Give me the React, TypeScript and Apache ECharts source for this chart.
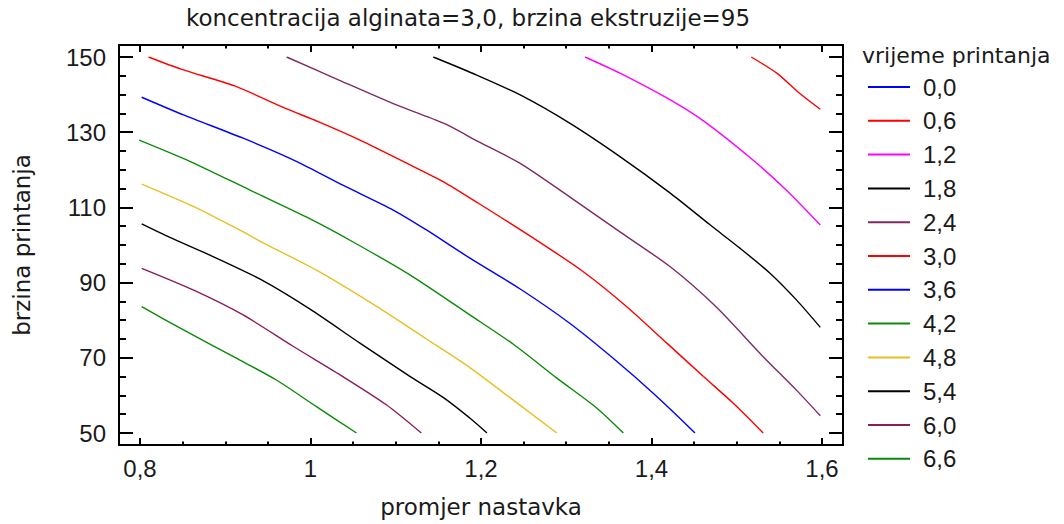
import React, { useEffect, useRef } from "react";
import * as echarts from "echarts";

const levelNames = ["0,0", "0,6", "1,2", "1,8", "2,4", "3,0", "3,6", "4,2", "4,8", "5,4", "6,0", "6,6"];
const levelColors = ["#0000ff", "#ff0000", "#ff00ff", "#000000", "#7f2a60", "#ff0000", "#0000ff", "#0a8a0a", "#e8c020", "#000000", "#8c1c5c", "#0a8a0a"];

const xTicks = [0.8, 1.6];
const yTicks = [50, 150];

const lvl0_0: number[][] = [];
const lvl0_6 = [[1.517, 150], [1.547, 145.7], [1.574, 140.3], [1.598, 136.1]];
const lvl1_2 = [[1.322, 150], [1.363, 145.7], [1.422, 138.6], [1.461, 133.0], [1.519, 122.6], [1.558, 114.6], [1.598, 105.3]];
const lvl1_8 = [[1.144, 150], [1.195, 145.2], [1.246, 139.9], [1.304, 132.4], [1.363, 123.5], [1.422, 113.8], [1.469, 105.3], [1.504, 99.1], [1.539, 92.5], [1.57, 85.4], [1.598, 78.1]];
const lvl2_4 = [[0.972, 150], [1.038, 143.4], [1.097, 137.6], [1.156, 132.4], [1.197, 127.5], [1.246, 121.7], [1.304, 112.8], [1.363, 103.5], [1.422, 94.2], [1.476, 83.5], [1.531, 70.3], [1.57, 61.4], [1.598, 54.6]];
const lvl3_0 = [[0.81, 150], [0.849, 146.7], [0.911, 142.3], [0.97, 136.4], [1.009, 132.8], [1.058, 127.9], [1.117, 121.3], [1.156, 116.8], [1.197, 111.1], [1.265, 101.3], [1.32, 92.9], [1.371, 83.6], [1.418, 73.9], [1.461, 65.0], [1.496, 57.9], [1.531, 50]];
const lvl3_6 = [[0.802, 139.3], [0.851, 134.6], [0.921, 128.4], [0.984, 122.2], [1.038, 115.9], [1.097, 109.3], [1.136, 104], [1.187, 96.5], [1.246, 88.3], [1.304, 79.2], [1.355, 69.9], [1.402, 60.6], [1.451, 50]];
const lvl4_2 = [[0.799, 127.9], [0.859, 122.2], [0.929, 114.6], [0.999, 107.0], [1.05, 100.8], [1.117, 92.0], [1.187, 81.4], [1.238, 73.6], [1.289, 64.6], [1.336, 56.6], [1.367, 50]];
const lvl4_8 = [[0.802, 116.2], [0.863, 110.2], [0.921, 103.5], [0.945, 100.5], [1.007, 93.3], [1.078, 83.6], [1.136, 75.0], [1.187, 67.4], [1.234, 59.4], [1.289, 50]];
const lvl5_4 = [[0.802, 105.6], [0.835, 102.0], [0.882, 97.3], [0.941, 90.9], [0.999, 83.0], [1.058, 73.9], [1.117, 65.0], [1.156, 59.4], [1.19, 53.4], [1.207, 50]];
const lvl6_0 = [[0.802, 93.8], [0.863, 88.0], [0.921, 81.4], [0.98, 73.0], [1.038, 65.0], [1.089, 57.5], [1.13, 50]];
const lvl6_6 = [[0.802, 83.6], [0.851, 77.4], [0.913, 69.9], [0.96, 64.1], [1.007, 57.0], [1.054, 50]];

const levelData = [lvl0_0, lvl0_6, lvl1_2, lvl1_8, lvl2_4, lvl3_0, lvl3_6, lvl4_2, lvl4_8, lvl5_4, lvl6_0, lvl6_6];

const fmt = (v: number) => String(Math.round(v * 100) / 100).replace(".", ",");

export default function App() {
  const ref = useRef<HTMLDivElement>(null);
  useEffect(() => {
    if (!ref.current) return;
    const chart = echarts.init(ref.current, undefined, { renderer: "svg" });
    const tickStyle = { color: "#000", width: 2 };
    const xCommon = {
      type: "value",
      min: xTicks[0],
      max: xTicks[1],
      interval: 0.2,
      offset: 12,
      axisLine: { show: false },
      splitLine: { show: false },
      axisTick: { show: true, inside: true, length: 7, lineStyle: tickStyle },
      minorTick: { show: true, splitNumber: 4, length: 3.5, lineStyle: tickStyle },
    };
    const yCommon = {
      type: "value",
      min: yTicks[0],
      max: yTicks[1],
      interval: 20,
      offset: 21,
      axisLine: { show: false },
      splitLine: { show: false },
      axisTick: { show: true, inside: true, length: 14, lineStyle: tickStyle },
      minorTick: { show: true, splitNumber: 4, length: 7, lineStyle: tickStyle },
    };
    const textColor = "#1a1a1a";
    chart.setOption({
      animation: false,
      backgroundColor: "#ffffff",
      title: [
        {
          text: "koncentracija alginata=3,0, brzina ekstruzije=95",
          left: 463,
          top: 1,
          textAlign: "center",
          textStyle: { fontFamily: "DejaVu Sans", fontSize: 23, fontWeight: "normal", color: textColor },
        },
        {
          text: "vrijeme printanja",
          left: 857,
          top: 39,
          textStyle: { fontFamily: "DejaVu Sans", fontSize: 22, fontWeight: "normal", color: textColor },
        },
      ],
      legend: {
        orient: "vertical",
        left: 863,
        top: 70,
        icon: "rect",
        itemWidth: 42,
        itemHeight: 2,
        itemGap: 9.8,
        data: levelNames,
        textStyle: { fontFamily: "Liberation Sans", fontSize: 24, color: textColor, lineHeight: 21, padding: [0, 0, 0, 8] },
      },
      grid: { left: 140, top: 57, width: 682, height: 376 },
      xAxis: [
        {
          ...xCommon,
          position: "bottom",
          name: "promjer nastavka",
          nameLocation: "middle",
          nameGap: 50,
          nameTextStyle: { fontFamily: "DejaVu Sans", fontSize: 23, color: textColor },
          axisLabel: { show: true, margin: 11, formatter: fmt, fontFamily: "Liberation Sans", fontSize: 24, color: textColor },
        },
        { ...xCommon, position: "top", axisLabel: { show: false } },
      ],
      yAxis: [
        {
          ...yCommon,
          position: "left",
          name: "brzina printanja",
          nameLocation: "middle",
          nameGap: 86,
          nameTextStyle: { fontFamily: "DejaVu Sans", fontSize: 23, color: textColor },
          axisLabel: { show: true, margin: 13, fontFamily: "Liberation Sans", fontSize: 24, color: textColor },
        },
        { ...yCommon, position: "right", axisLabel: { show: false } },
      ],
      graphic: [
        {
          type: "rect",
          shape: { x: 119, y: 45, width: 724, height: 400 },
          style: { fill: "none", stroke: "#000", lineWidth: 2 },
          silent: true,
        },
      ],
      series: levelNames.map((name, i) => ({
        name,
        type: "line",
        xAxisIndex: 0,
        yAxisIndex: 0,
        data: levelData[i],
        showSymbol: false,
        symbol: "none",
        smooth: 0.25,
        lineStyle: { color: levelColors[i], width: 1.4 },
        itemStyle: { color: levelColors[i] },
      })),
    });
    return () => chart.dispose();
  }, []);
  return <div ref={ref} style={{ position: "fixed", left: 0, top: 0, width: 1064, height: 524 }} />;
}
